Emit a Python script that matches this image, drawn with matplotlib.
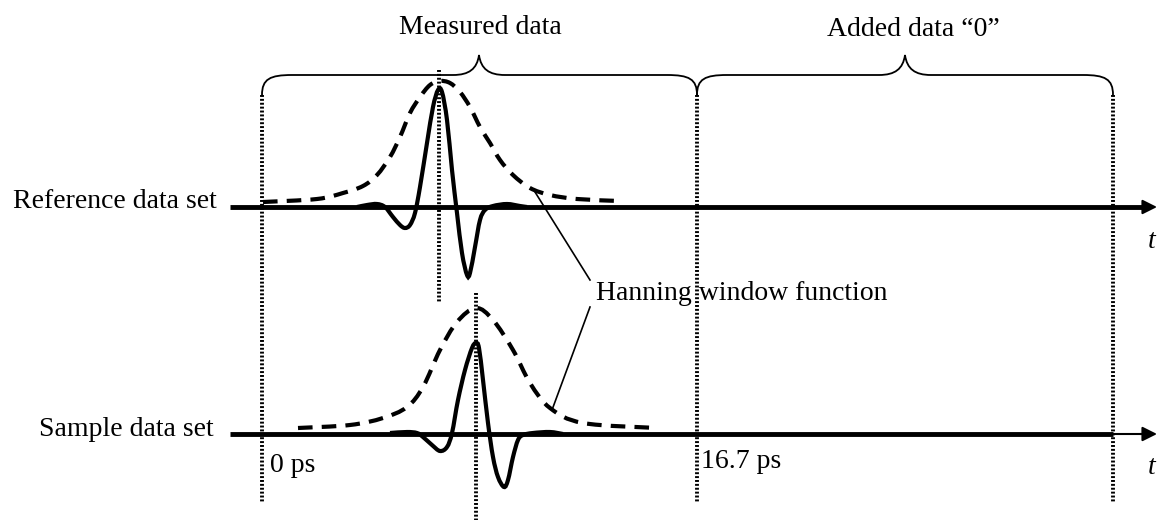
import matplotlib.pyplot as plt
from matplotlib.path import Path
from matplotlib.patches import PathPatch

plt.rcParams['font.family'] = ['Liberation Serif', 'DejaVu Serif']

# traces (pixel coords, y down)
ref_pulse_x = [357, 367, 377, 385, 393, 400, 405, 410, 415, 420, 427, 433, 438, 442,
               447, 452, 457, 462, 467, 470, 475, 480, 485, 493, 507, 520, 527]
ref_pulse_y = [207, 205, 204, 207, 217, 225, 228, 225, 213, 187, 143, 107, 90, 92,
               120, 170, 213, 253, 275, 273, 247, 220, 210, 206, 204, 206, 207]
ref_win_x = [263, 317, 343, 363, 377, 390, 400, 410, 420, 430, 440, 450, 460, 470,
             480, 490, 500, 513, 530, 550, 577, 620]
ref_win_y = [202, 199, 193, 186, 175, 157, 137, 113, 97, 85, 81, 83, 92, 107,
             127, 143, 160, 175, 188, 195, 199, 201]
smp_pulse_x = [390, 407, 417, 423, 432, 440, 447, 452, 458, 465, 472, 476, 479, 483,
               488, 493, 498, 504, 508, 513, 518, 523, 533, 550, 563]
smp_pulse_y = [433, 432, 433, 437, 445, 451, 447, 433, 400, 370, 348, 343, 348, 380,
               423, 457, 477, 487, 480, 457, 440, 435, 433, 432, 434]
smp_win_x = [298, 350, 383, 407, 423, 440, 457, 476, 493, 513, 530, 550, 583, 657]
smp_win_y = [428, 425, 418, 407, 387, 350, 322, 308, 320, 350, 383, 408, 423, 428]

ref_y, smp_y = 207, 434
x_start, x_zero, x_meas, x_end = 230, 262, 697, 1113
ref_peak_x, smp_peak_x = 439, 476


def smooth(xs, ys):
    # catmull-rom through the read points, drawn as bezier segments
    pts = list(zip(xs, ys))
    verts = [pts[0]]
    codes = [Path.MOVETO]
    for i in range(len(pts) - 1):
        p0 = pts[max(i - 1, 0)]
        p1, p2 = pts[i], pts[i + 1]
        p3 = pts[min(i + 2, len(pts) - 1)]
        c1 = (p1[0] + (p2[0] - p0[0]) / 6, p1[1] + (p2[1] - p0[1]) / 6)
        c2 = (p2[0] - (p3[0] - p1[0]) / 6, p2[1] - (p3[1] - p1[1]) / 6)
        verts += [c1, c2, p2]
        codes += [Path.CURVE4] * 3
    return Path(verts, codes)


def brace(ax, x0, x1, xm, y_end=95, y_line=75, y_tip=55):
    r, t = 30, 26
    verts = [(x0, y_end), (x0, y_line + 4), (x0 + 8, y_line), (x0 + r, y_line),
             (xm - t, y_line),
             (xm - 10, y_line), (xm - 2, y_line - 6), (xm, y_tip),
             (xm + 2, y_line - 6), (xm + 10, y_line), (xm + t, y_line),
             (x1 - r, y_line),
             (x1 - 8, y_line), (x1, y_line + 4), (x1, y_end)]
    codes = [Path.MOVETO, Path.CURVE4, Path.CURVE4, Path.CURVE4,
             Path.LINETO,
             Path.CURVE4, Path.CURVE4, Path.CURVE4,
             Path.CURVE4, Path.CURVE4, Path.CURVE4,
             Path.LINETO,
             Path.CURVE4, Path.CURVE4, Path.CURVE4]
    ax.add_patch(PathPatch(Path(verts, codes), fill=False, lw=1.3, color='black'))


fig = plt.figure(figsize=(11.57, 5.2), dpi=100)
ax = fig.add_axes([0, 0, 1, 1])
ax.set_xlim(0, 1157)
ax.set_ylim(520, 0)
ax.axis('off')

dot = (0, (0.5, 0.5))

# vertical dotted markers
for xv in [x_zero, x_meas, x_end]:
    ax.plot([xv, xv], [95, 503], color='black', lw=2.8, ls=dot)
ax.plot([ref_peak_x, ref_peak_x], [70, 302], color='black', lw=2.8, ls=dot)
ax.plot([smp_peak_x, smp_peak_x], [293, 520], color='black', lw=2.8, ls=dot)

# time axes
ax.plot([x_start, 1145], [ref_y, ref_y], color='black', lw=3.5, solid_capstyle='butt')
ax.plot([x_start, x_end], [smp_y, smp_y], color='black', lw=3.5, solid_capstyle='butt')
ax.plot([x_end, 1145], [smp_y, smp_y], color='black', lw=1.5, solid_capstyle='butt')
for yv in [ref_y, smp_y]:
    ax.annotate('', xy=(1157, yv), xytext=(1140, yv),
                arrowprops=dict(arrowstyle='-|>', color='black', lw=1.5,
                                mutation_scale=22, shrinkA=0, shrinkB=0))
    ax.text(1152, yv + 34, 't', fontsize=20, style='italic', ha='center', va='center')

# pulses and window functions
ax.add_patch(PathPatch(smooth(ref_pulse_x, ref_pulse_y), fill=False, lw=3, color='black'))
ax.add_patch(PathPatch(smooth(smp_pulse_x, smp_pulse_y), fill=False, lw=3, color='black'))
ax.add_patch(PathPatch(smooth(ref_win_x, ref_win_y), fill=False, lw=3, color='black',
                       ls=(0, (3.5, 2.2)), capstyle='butt'))
ax.add_patch(PathPatch(smooth(smp_win_x, smp_win_y), fill=False, lw=3, color='black',
                       ls=(0, (3.5, 2.2)), capstyle='butt'))

# braces and headings
brace(ax, x_zero, x_meas, 479)
brace(ax, x_meas, x_end, 905)
ax.text(480, 28, 'Measured data', fontsize=20, ha='center', va='center')
ax.text(913, 30, 'Added data \u201c0\u201d', fontsize=20, ha='center', va='center')

# row labels
ax.text(217, 201, 'Reference data set', fontsize=20, ha='right', va='center')
ax.text(214, 429, 'Sample data set', fontsize=20, ha='right', va='center')
ax.text(270, 466, '0 ps', fontsize=20, ha='left', va='center')
ax.text(701, 461, '16.7 ps', fontsize=20, ha='left', va='center')

# hanning callout
ax.text(596, 294, 'Hanning window function', fontsize=20, ha='left', va='center')
ax.plot([535, 590], [192, 280], color='black', lw=1.2)
ax.plot([590, 552], [307, 410], color='black', lw=1.2)

fig.savefig('out.png', dpi=100)
